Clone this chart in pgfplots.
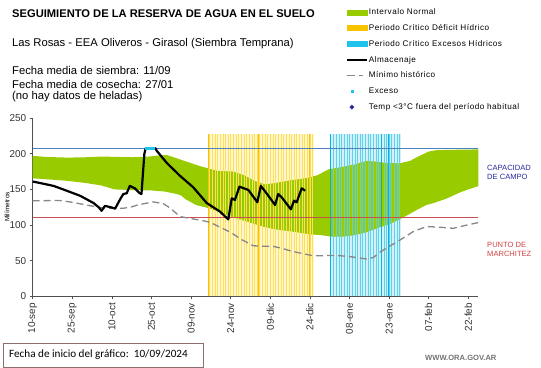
\documentclass[border=0pt]{standalone}
\usepackage{pgfplots}
\pgfplotsset{compat=1.18}
\usepackage{fontspec}
\setmainfont{Liberation Sans}
\newfontfamily\carlito{Carlito}
\newfontfamily\legfont[LetterSpace=6]{Liberation Sans}
\definecolor{bandgreen}{RGB}{153,204,0}
\definecolor{ylw}{RGB}{255,222,90}
\definecolor{ylwdark}{RGB}{248,196,0}
\definecolor{ylwpale}{RGB}{255,247,205}
\definecolor{cyn}{RGB}{95,208,235}
\definecolor{cynleg}{RGB}{30,195,235}
\definecolor{cyndark}{RGB}{0,180,225}
\definecolor{cynpale}{RGB}{210,241,248}
\definecolor{capblue}{RGB}{79,129,189}
\definecolor{pmpred}{RGB}{200,80,80}
\definecolor{capnavy}{RGB}{40,40,160}
\definecolor{axgray}{RGB}{80,80,80}
\definecolor{mingray}{RGB}{135,135,135}
\begin{document}
\begin{tikzpicture}
\path[use as bounding box] (0,0) rectangle (541bp,368bp);
\begin{axis}[
  at={(32.7bp,71.5bp)}, anchor=south west,
  scale only axis, width=445.6bp, height=178.5bp,
  xmin=0, xmax=168.8, ymin=0, ymax=250,
  axis x line*=bottom, axis y line*=left,
  axis line style={-, draw=axgray, line width=0.8bp},
  tick align=outside, major tick length=3bp,
  tick style={axgray, line width=0.6bp},
  xtick={0,15,...,165},
  xticklabels={10-sep,25-sep,10-oct,25-oct,09-nov,24-nov,09-dic,24-dic,08-ene,23-ene,07-feb,22-feb},
  ytick={0,50,...,250},
  /pgf/number format/assume math mode=true,
  tick label style={font=\fontsize{10}{11}\selectfont, text=black!80},
  xticklabel style={rotate=90, anchor=east},
  legend style={at={(0.7024,1.622)}, anchor=north west, draw=none, fill=none,
    inner sep=0pt, row sep=5.5bp, font=\legfont\fontsize{8.2}{9}\selectfont,
    nodes={inner sep=1bp, text height=6.5bp, text depth=1.8bp}},
  legend cell align=left,
]
% background of critical periods
\addplot[fill=ylwpale, draw=none, forget plot] coordinates {(66.5,0) (66.5,228) (106.7,228) (106.7,0)};
\addplot[fill=cynpale, draw=none, forget plot] coordinates {(112.9,0) (112.9,228) (139.4,228) (139.4,0)};
% normal interval band (upper edge, then lower edge reversed)
\addplot[fill=bandgreen, draw=none, forget plot] coordinates {
(0,197) (5,195.5) (13,194.5) (20,195) (26,196) (32,195.5) (38,195) (44,196) (49,198) (51,198)
(55,193) (59,188) (63,183) (66.5,179.5) (70,176) (76,175) (80,170) (84,162) (88,157) (92,159)
(98,163) (104,166) (108,170) (112,178) (118,182) (122,185) (126.5,190) (130,189) (134,187)
(139,186.5) (143,190) (146,196) (150,203) (153,205) (160,205.5) (168.8,206)
(168.8,154.5) (165,150) (162,146) (157,137.5) (152,131) (149,128) (145.4,121) (142,114) (139,108)
(135,101) (131.5,97) (126.5,90) (122,86) (118,84) (113,84) (109,86) (105,87) (100,90) (92,94)
(87,98) (82,104) (75,112) (72,116) (67,123.5) (62,128) (58,136) (56,142) (54,144) (50,147)
(45,148.5) (38,149) (31,150) (26,155.5) (20,159) (13,162) (6,164) (0,165.5)};
% critical period stripes
\addplot[ycomb, ylw, line width=0.5bp, forget plot] coordinates {
(67,228) (68,228) (69,228) (70,228) (71,228) (72,228) (73,228) (74,228) (75,228) (76,228)
(77,228) (78,228) (79,228) (80,228) (81,228) (82,228) (83,228) (84,228) (85,228) (86,228)
(87,228) (88,228) (89,228) (90,228) (91,228) (92,228) (93,228) (94,228) (95,228) (96,228)
(97,228) (98,228) (99,228) (100,228) (101,228) (102,228) (103,228) (104,228) (105,228) (106,228)};
\addplot[ycomb, ylwdark, line width=0.9bp, forget plot] coordinates {(66.6,228) (85.5,228) (104.7,228)};
\addplot[ycomb, cyn, line width=0.5bp, forget plot] coordinates {
(114,228) (115,228) (116,228) (117,228) (118,228) (119,228) (120,228) (121,228) (122,228)
(123,228) (124,228) (125,228) (126,228) (127,228) (128,228) (129,228) (130,228) (131,228)
(132,228) (133,228) (134,228) (135,228) (136,228) (137,228) (138,228) (139,228)};
\addplot[ycomb, cyndark, line width=0.9bp, forget plot] coordinates {(112.9,228) (132.2,228) (134.6,228)};
% reference lines
\addplot[capblue, line width=0.8bp, forget plot] coordinates {(0,207) (168.8,207)};
\addplot[pmpred, line width=0.8bp, forget plot] coordinates {(0,110.5) (168.8,110.5)};
% historical minimum
\addplot[mingray, line width=1.3bp, dash pattern=on 7bp off 4bp, forget plot] coordinates {
(0,134) (10,134.5) (15,132) (20.5,128) (25,125) (28,123.5) (34,123.5) (37,125) (40,128.5)
(45.7,132.5) (49.5,130) (52,124) (55.8,112) (60,109) (63.4,107) (67.2,104) (71,97) (74.9,90)
(79,80) (83.6,71) (91.2,70) (94,68) (97.5,64) (101,61) (106.3,57) (115,57.5) (120,56)
(126.5,52.5) (129,54.5) (131.5,62) (135,70) (139.1,79) (144.2,91) (149.2,98) (154.3,97)
(159.3,95.5) (164.4,100) (168.8,103.5)};
% storage
\addplot[black, line width=2.2bp, line join=round, forget plot] coordinates {
(0,161) (4,158) (8,154.8) (13,148) (18,141) (20,137) (23,131) (25,125) (26.1,120) (27.4,127)
(30,124.5) (31.2,123) (33.1,136) (34.3,143.5) (35.6,144.5) (36.8,155) (38.7,151.5) (40.6,144.5)
(41.2,143.5) (42.3,200) (42.8,207.5) (46.5,207.5) (47,204) (50.8,187) (55.8,169) (60.8,153)
(65.9,131) (70.9,119) (74.1,108) (75.4,137.5) (76.6,135.2) (78.3,153.8) (81.7,149.2) (85.1,132)
(86.4,155) (88.4,145.4) (91.8,128.2) (93,143.5) (94.3,139) (97.8,122.1) (99,134.2) (100,132)
(101.9,151.5) (103.2,148.2)};
% excess
\addplot[cynleg, line width=3bp, forget plot] coordinates {(42.6,207.5) (46.4,207.5)};
% legend
\addlegendimage{legend image code/.code={\fill[bandgreen] (0bp,-2.5bp) rectangle (20bp,2.5bp);}}
\addlegendentry{Intervalo Normal}
\addlegendimage{legend image code/.code={\fill[ylwdark] (0bp,-2.5bp) rectangle (20bp,2.5bp);}}
\addlegendentry{Periodo Crítico Déficit Hídrico}
\addlegendimage{legend image code/.code={\fill[cynleg] (0bp,-2.5bp) rectangle (20bp,2.5bp);}}
\addlegendentry{Periodo Crítico Excesos Hídricos}
\addlegendimage{legend image code/.code={\draw[black,line width=2bp] (0bp,0bp) -- (20bp,0bp);}}
\addlegendentry{Almacenaje}
\addlegendimage{legend image code/.code={\draw[mingray,line width=1.3bp] (0bp,0bp) -- (8bp,0bp) (12bp,0bp) -- (16bp,0bp);\draw[white,line width=0.1bp] (19.9bp,0bp) -- (20bp,0bp);}}
\addlegendentry{Mínimo histórico}
\addlegendimage{legend image code/.code={\draw[white,line width=0.1bp] (0bp,0bp) -- (20bp,0bp);\fill[cynleg] (4bp,-1.2bp) rectangle (6.4bp,1.2bp);}}
\addlegendentry{Exceso}
\addlegendimage{legend image code/.code={\draw[white,line width=0.1bp] (0bp,0bp) -- (20bp,0bp);\fill[capnavy] (5bp,2.2bp) -- (7.2bp,0bp) -- (5bp,-2.2bp) -- (2.8bp,0bp) -- cycle;}}
\addlegendentry{Temp <3°C fuera del período habitual}
\end{axis}
% texts
\node[anchor=west, inner sep=0pt, font=\bfseries\fontsize{11.2}{12}\selectfont] at (12bp,354bp) {SEGUIMIENTO DE LA RESERVA DE AGUA  EN EL SUELO};
\node[anchor=west, inner sep=0pt, font=\fontsize{11.3}{12}\selectfont] at (12bp,324bp) {Las Rosas - EEA Oliveros - Girasol (Siembra Temprana)};
\node[anchor=west, inner sep=0pt, font=\fontsize{11.3}{12}\selectfont] at (12bp,298bp) {Fecha media de siembra: 11/09};
\node[anchor=west, inner sep=0pt, font=\fontsize{11.3}{12}\selectfont] at (12bp,284bp) {Fecha media de cosecha: 27/01};
\node[anchor=west, inner sep=0pt, font=\fontsize{11.3}{12}\selectfont] at (12bp,271bp) {(no hay  datos de heladas)};
\node[rotate=90, inner sep=0pt, font=\fontsize{6.5}{7}\selectfont] at (7bp,161bp) {Milímetros};
\node[anchor=north west, inner sep=0pt, align=left, text=capnavy, font=\fontsize{7.6}{9}\selectfont] at (487bp,203bp) {CAPACIDAD\\DE  CAMPO};
\node[anchor=north west, inner sep=0pt, align=left, text=pmpred!80!red, font=\fontsize{7.6}{9}\selectfont] at (487bp,126bp) {PUNTO  DE\\MARCHITEZ};
\draw[draw={rgb,255:red,140;green,110;blue,110}, line width=0.7bp] (3bp,1bp) rectangle (203bp,25bp);
\node[anchor=west, inner sep=0pt, font=\carlito\fontsize{11.2}{12}\selectfont] at (9bp,13bp) {Fecha de inicio del gráfico:\ \ 10/09/2024};
\node[anchor=west, inner sep=0pt, text=black!55, font=\bfseries\fontsize{7.6}{9}\selectfont] at (425bp,10bp) {WWW.ORA.GOV.AR};
\end{tikzpicture}
\end{document}
